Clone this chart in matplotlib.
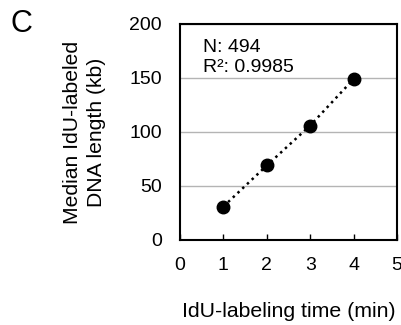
import matplotlib
matplotlib.use("Agg")
import matplotlib.pyplot as plt

plt.rcParams['font.family'] = ['Liberation Sans', 'DejaVu Sans']

time_min = [1, 2, 3, 4]
median_len_kb = [31, 69, 106, 149]
x_ticks = [0, 1, 2, 3, 4, 5]
y_ticks = [0, 50, 100, 150, 200]

fig = plt.figure(figsize=(4.01, 3.25), dpi=100)
ax = fig.add_axes([180/401, 1-240/325, 217/401, 216/325])

ax.plot(time_min, median_len_kb, linestyle=(0, (1, 1.6)), color='black', linewidth=1.8,
        marker='o', markersize=9, markerfacecolor='black', markeredgecolor='black', zorder=3)

ax.set_xlim(0, 5)
ax.set_ylim(0, 200)
ax.set_xticks(x_ticks)
ax.set_yticks(y_ticks)
ax.tick_params(axis='x', direction='in', length=4, width=1, labelsize=14, pad=12)
ax.tick_params(axis='y', length=0, labelsize=14, pad=13)
ax.yaxis.grid(True, color='#b4b4b4', linewidth=1)
ax.set_axisbelow(True)
for s in ax.spines.values():
    s.set_linewidth(1.5)
    s.set_color('black')

ax.set_xlabel('IdU-labeling time (min)', fontsize=15.3, labelpad=20.5)
ax.set_ylabel('Median IdU-labeled\nDNA length (kb)', fontsize=15.2, labelpad=17, linespacing=1.3)

ax.text(0.105, (240-52)/216, 'N: 494', transform=ax.transAxes, fontsize=14,
        va='baseline', ha='left')
ax.text(0.105, (240-72)/216, 'R²: 0.9985', transform=ax.transAxes, fontsize=14,
        va='baseline', ha='left')

fig.text(21/401, 1-24/325, 'C', fontsize=22, ha='center', va='center')

fig.savefig('out.png', dpi=100)
